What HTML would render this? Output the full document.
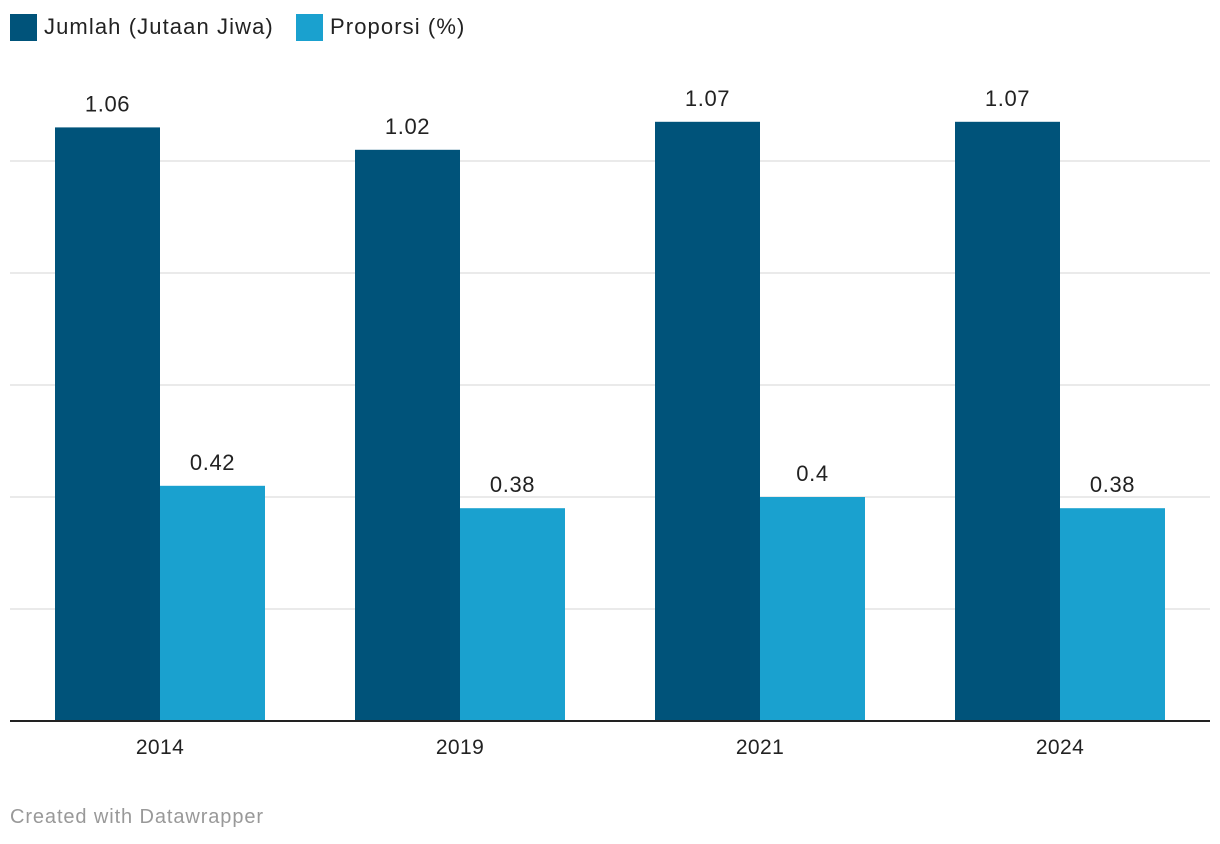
<!DOCTYPE html>
<html><head><meta charset="utf-8"><style>
body{margin:0;background:#fff;width:1220px;height:844px;overflow:hidden;font-family:"Liberation Sans",sans-serif;}
.leg{position:absolute;top:12px;height:30px;display:flex;align-items:center;font-size:22px;color:#222;letter-spacing:1.1px;}
.sw{width:27px;height:27px;margin-right:7px;}
</style></head><body>
<div class="leg" style="left:10px"><div class="sw" style="background:#00537a"></div>Jumlah (Jutaan Jiwa)</div>
<div class="leg" style="left:296px"><div class="sw" style="background:#1aa1cf"></div>Proporsi (%)</div>
<svg id="chart" width="1220" height="844" style="position:absolute;left:0;top:0"></svg>
<div style="position:absolute;left:10px;top:806px;font-size:20px;color:#999;letter-spacing:0.9px">Created with Datawrapper</div>
<script>
const categories=["2014","2019","2021","2024"];
const jumlah=[1.06,1.02,1.07,1.07];
const proporsi=[0.42,0.38,0.4,0.38];
const jumlahLabels=["1.06","1.02","1.07","1.07"];
const proporsiLabels=["0.42","0.38","0.4","0.38"];
const gridTicks=[0.2,0.4,0.6,0.8,1.0];
const svg=document.getElementById('chart');
const NS='http://www.w3.org/2000/svg';
const base=721,ppu=560;
const y=v=>base-v*ppu;
const cx=i=>160+i*300;
function mk(t,a){const e=document.createElementNS(NS,t);for(const k in a)e.setAttribute(k,a[k]);svg.appendChild(e);return e;}
gridTicks.forEach(t=>{
 const l=mk('line',{x1:10,x2:1210,y1:y(t),y2:y(t),stroke:'#e3e3e3','stroke-width':1.5});
 
 
});
categories.forEach((c,i)=>{
 const series=[[jumlah,jumlahLabels,'#00537a',-105,'jumlah'],[proporsi,proporsiLabels,'#1aa1cf',0,'proporsi']];
 series.forEach(([vals,labs,col,off,nm])=>{
  const r=mk('rect',{x:cx(i)+off,y:y(vals[i]),width:105,height:vals[i]*ppu,fill:col});
  
  
  const t=mk('text',{x:cx(i)+off+52.5,y:y(vals[i])-16,'text-anchor':'middle','font-size':22,fill:'#222','letter-spacing':0.6});
  t.textContent=labs[i];
  
  
 });
 const t=mk('text',{x:cx(i),y:754,'text-anchor':'middle','font-size':21,fill:'#222','letter-spacing':0.4});
 t.textContent=c;
 
 
});
const ax=mk('line',{x1:10,x2:1210,y1:base,y2:base,stroke:'#222','stroke-width':2});


</script>
</body></html>
